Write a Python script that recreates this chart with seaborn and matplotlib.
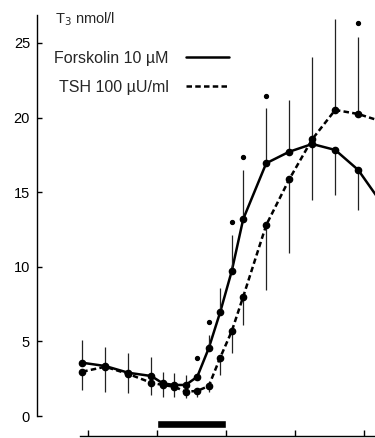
import matplotlib
matplotlib.use("Agg")
import matplotlib.pyplot as plt
import seaborn as sns
import pandas as pd
import numpy as np

# ---- data ----
time = [-65, -45, -25, -5, 5, 15, 25, 35, 45, 55, 65, 75, 95, 115, 135, 155, 175, 195]
forsk = [3.57, 3.35, 2.90, 2.68, 2.19, 2.08, 2.08, 2.63, 4.54, 6.97, 9.71, 13.20,
         16.94, 17.71, 18.23, 17.83, 16.49, 14.30]
forsk_err_lo = [0, 0, 0, 0, 0, 0, 0, 0, 0, 0, 0, 0, 0, 0, 3.75, 3.02, 2.68, 2.50]
forsk_err_hi = [1.52, 1.29, 1.32, 1.27, 0.78, 0.82, 0.67, 0, 0.89, 1.61, 2.42, 3.29,
                3.70, 3.47, 0, 0, 0, 0]
tsh = [2.97, 3.30, 2.82, 2.23, 2.08, 1.96, 1.63, 1.68, 2.01, 3.92, 5.68, 8.00,
       12.80, 15.86, 18.55, 20.51, 20.24, 19.75]
tsh_err_lo = [1.23, 1.67, 1.26, 0.82, 0.78, 0.67, 0.44, 0.38, 0.40, 1.17, 1.46, 1.90,
              4.35, 4.94, 0, 0, 0, 0]
tsh_err_hi = [0, 0, 0, 0, 0, 0, 0, 0, 0, 0, 0, 0, 0, 0, 5.53, 6.10, 5.18, 5.00]

forsk_dot_time = [35, 45, 65, 75, 95]
forsk_dot = [3.91, 6.30, 13.02, 17.38, 21.47]
tsh_dot_time = [175]
tsh_dot = [26.36]

stim_start, stim_len = 0, 60

labels = ["Forskolin 10 µM", "TSH 100 µU/ml"]
yticks = [0, 5, 10, 15, 20, 25]
xticks = [-60, 0, 60, 120, 180]

# ---- build long table ----
df = pd.DataFrame({
    "time": time * 2,
    "T3": forsk + tsh,
    "treatment": [labels[0]] * len(time) + [labels[1]] * len(time),
})

sns.set_theme(style="white")
plt.rcParams["font.family"] = ["Liberation Sans", "DejaVu Sans"]

fig = plt.figure(figsize=(3.75, 4.38), dpi=100)
ax = fig.add_axes([37 / 375, 2 / 438, 1 - 37 / 375, 436 / 438])

sns.lineplot(data=df, x="time", y="T3", style="treatment", style_order=labels,
             dashes={labels[0]: "", labels[1]: (2.2, 1.3)}, color="black",
             linewidth=1.8, sort=False, errorbar=None, ax=ax, legend="full")

# error bars (one-sided)
ax.errorbar(time, forsk, yerr=[forsk_err_lo, forsk_err_hi], fmt="none",
            ecolor="#222222", elinewidth=0.9, capsize=0)
ax.errorbar(time, tsh, yerr=[tsh_err_lo, tsh_err_hi], fmt="none",
            ecolor="#222222", elinewidth=0.9, capsize=0)

# markers
ax.plot(time, forsk, "o", color="black", markersize=4.5, ls="none")
ax.plot(time, tsh, "o", color="black", markersize=4.5, ls="none")
ax.plot(forsk_dot_time, forsk_dot, "o", color="black", markersize=2.8, ls="none")
ax.plot(tsh_dot_time, tsh_dot, "o", color="black", markersize=2.8, ls="none")

# stimulation bar
ax.broken_barh([(stim_start, stim_len)], (-0.83, 0.56), facecolors="black")

# axes
ax.set_xlim(-104.35, 189.6)
ax.set_ylim(-1.34, 27.88)
ax.set_yticks(yticks)
ax.set_yticklabels([str(v) for v in yticks], fontsize=10.5)
ax.set_xticks(xticks)
ax.set_xticklabels([])
ax.set_xlabel("")
ax.set_ylabel("")
for s in ["top", "right"]:
    ax.spines[s].set_visible(False)
ax.spines["left"].set_bounds(0, 26.9)
ax.spines["bottom"].set_bounds(-67, 189.6)
for s in ["left", "bottom"]:
    ax.spines[s].set_color("black")
    ax.spines[s].set_linewidth(1.0)
ax.tick_params(axis="y", direction="in", length=3.5, width=1, colors="black",
               pad=5, left=True)
ax.tick_params(axis="x", direction="in", length=4, width=1, colors="black",
               bottom=True)

ax.text(-88.7, 26.6, "T$_3$ nmol/l", fontsize=10.5, ha="left", va="center")

h, l = ax.get_legend_handles_labels()
leg = ax.legend(h[:2], l[:2], loc="upper left", bbox_to_anchor=(0.05, 0.883),
                frameon=False, markerfirst=False, fontsize=11.5, handlelength=2.7,
                handletextpad=1.1, labelspacing=0.85, borderpad=0, borderaxespad=0)
for line in leg.get_lines():
    line.set_linewidth(1.8)

fig.savefig("out.png", dpi=100)
